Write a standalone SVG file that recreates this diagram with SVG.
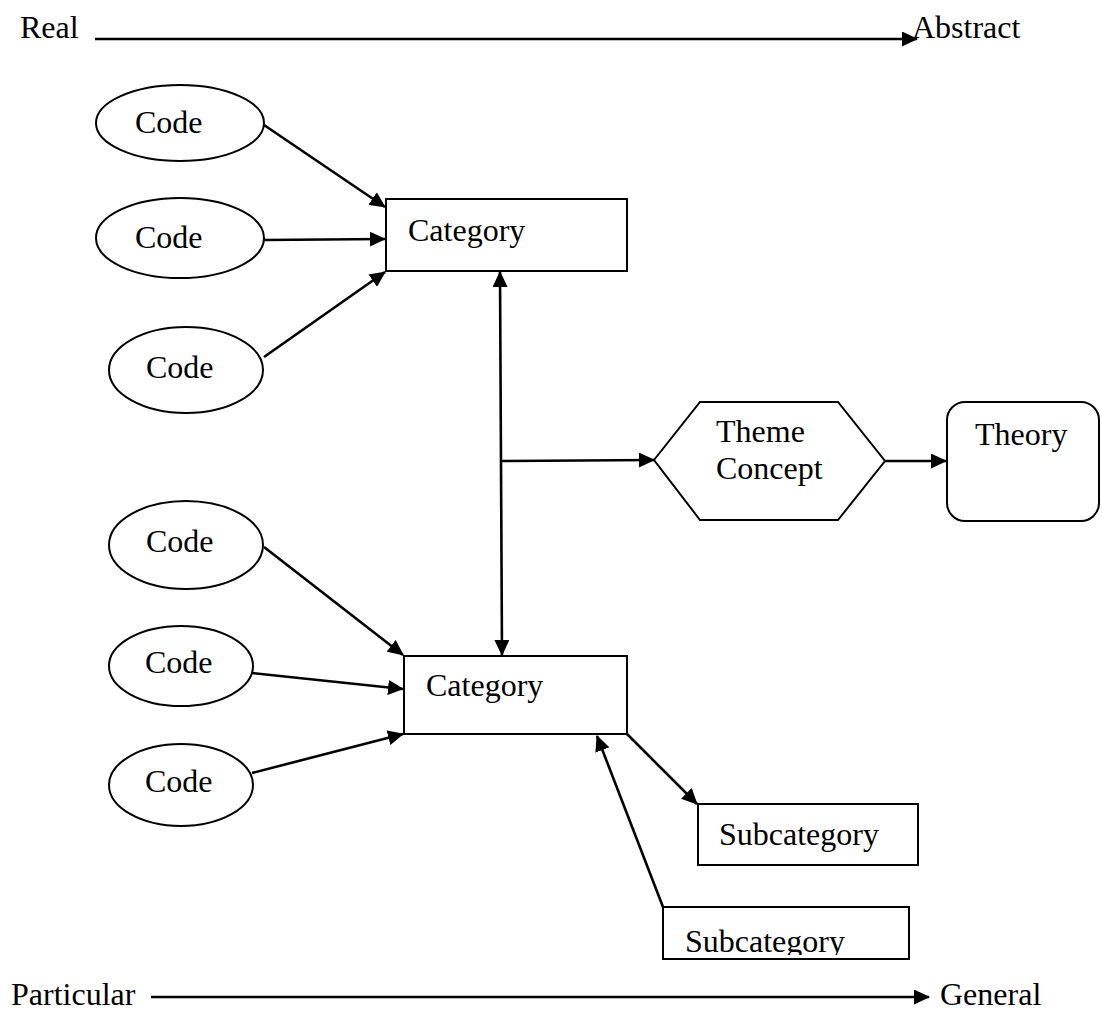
<svg xmlns="http://www.w3.org/2000/svg" width="1102" height="1015" viewBox="0 0 1102 1015">
<style>
.s{fill:#fff;stroke:#000;stroke-width:2}
.t{font-family:"Liberation Serif","Times New Roman",serif;font-size:32px;fill:#000}
.c{fill:none;stroke:#000;stroke-width:2.6}
</style>
<defs>
<marker id="ah" viewBox="0 0 16 15" refX="15" refY="7.5" markerWidth="16" markerHeight="15" markerUnits="userSpaceOnUse" orient="auto-start-reverse">
<path d="M0,0 L16,7.5 L0,15 z" fill="#000"/>
</marker>
<clipPath id="sc2clip"><rect x="663" y="907" width="246" height="48"/></clipPath>
</defs>
<rect width="1102" height="1015" fill="#fff"/>
<g id="axes">
<text class="t" x="20" y="38">Real</text>
<text class="t" x="912" y="38">Abstract</text>
<text class="t" x="11" y="1005">Particular</text>
<text class="t" x="940" y="1005">General</text>
</g>
<g id="connectors">
<line class="c" x1="95" y1="39" x2="917" y2="39" marker-end="url(#ah)"/>
<line class="c" x1="151" y1="997" x2="929" y2="997" marker-end="url(#ah)"/>
<line class="c" x1="264" y1="125" x2="385" y2="207" marker-end="url(#ah)"/>
<line class="c" x1="264" y1="240" x2="385" y2="239" marker-end="url(#ah)"/>
<line class="c" x1="264" y1="357" x2="385" y2="272" marker-end="url(#ah)"/>
<line class="c" x1="500" y1="272" x2="502" y2="655" marker-start="url(#ah)" marker-end="url(#ah)"/>
<line class="c" x1="500" y1="461" x2="654" y2="460" marker-end="url(#ah)"/>
<line class="c" x1="884" y1="461" x2="946" y2="461" marker-end="url(#ah)"/>
<line class="c" x1="264" y1="547" x2="403" y2="655" marker-end="url(#ah)"/>
<line class="c" x1="252" y1="673" x2="403" y2="689" marker-end="url(#ah)"/>
<line class="c" x1="252" y1="773" x2="403" y2="734" marker-end="url(#ah)"/>
<line class="c" x1="627" y1="734" x2="697" y2="804" marker-end="url(#ah)"/>
<line class="c" x1="663" y1="907" x2="597" y2="736" marker-end="url(#ah)"/>
</g>
<g id="code1"><ellipse class="s" cx="180" cy="123" rx="84" ry="38"/><text class="t" x="135" y="133">Code</text></g>
<g id="code2"><ellipse class="s" cx="180" cy="238" rx="84" ry="40"/><text class="t" x="135" y="248">Code</text></g>
<g id="code3"><ellipse class="s" cx="186" cy="370" rx="77" ry="43"/><text class="t" x="146" y="378">Code</text></g>
<g id="category1"><rect class="s" x="386" y="199" width="241" height="72"/><text class="t" x="408" y="241">Category</text></g>
<g id="code4"><ellipse class="s" cx="186" cy="545" rx="77" ry="44"/><text class="t" x="146" y="552">Code</text></g>
<g id="code5"><ellipse class="s" cx="181" cy="666" rx="72" ry="40"/><text class="t" x="145" y="673">Code</text></g>
<g id="code6"><ellipse class="s" cx="181" cy="785" rx="72" ry="41"/><text class="t" x="145" y="792">Code</text></g>
<g id="category2"><rect class="s" x="404" y="656" width="223" height="78"/><text class="t" x="426" y="696">Category</text></g>
<g id="theme"><polygon class="s" points="654,460 700,402 838,402 885,461 838,520 700,520"/><text class="t" x="716" y="442">Theme</text><text class="t" x="716" y="479">Concept</text></g>
<g id="theory"><rect class="s" x="947" y="402" width="152" height="119" rx="18"/><text class="t" x="975" y="445">Theory</text></g>
<g id="subcategory1"><rect class="s" x="698" y="804" width="220" height="61"/><text class="t" x="719" y="845">Subcategory</text></g>
<g id="subcategory2"><rect class="s" x="663" y="907" width="246" height="52"/><text class="t" x="685" y="952" clip-path="url(#sc2clip)">Subcategory</text></g>
</svg>
